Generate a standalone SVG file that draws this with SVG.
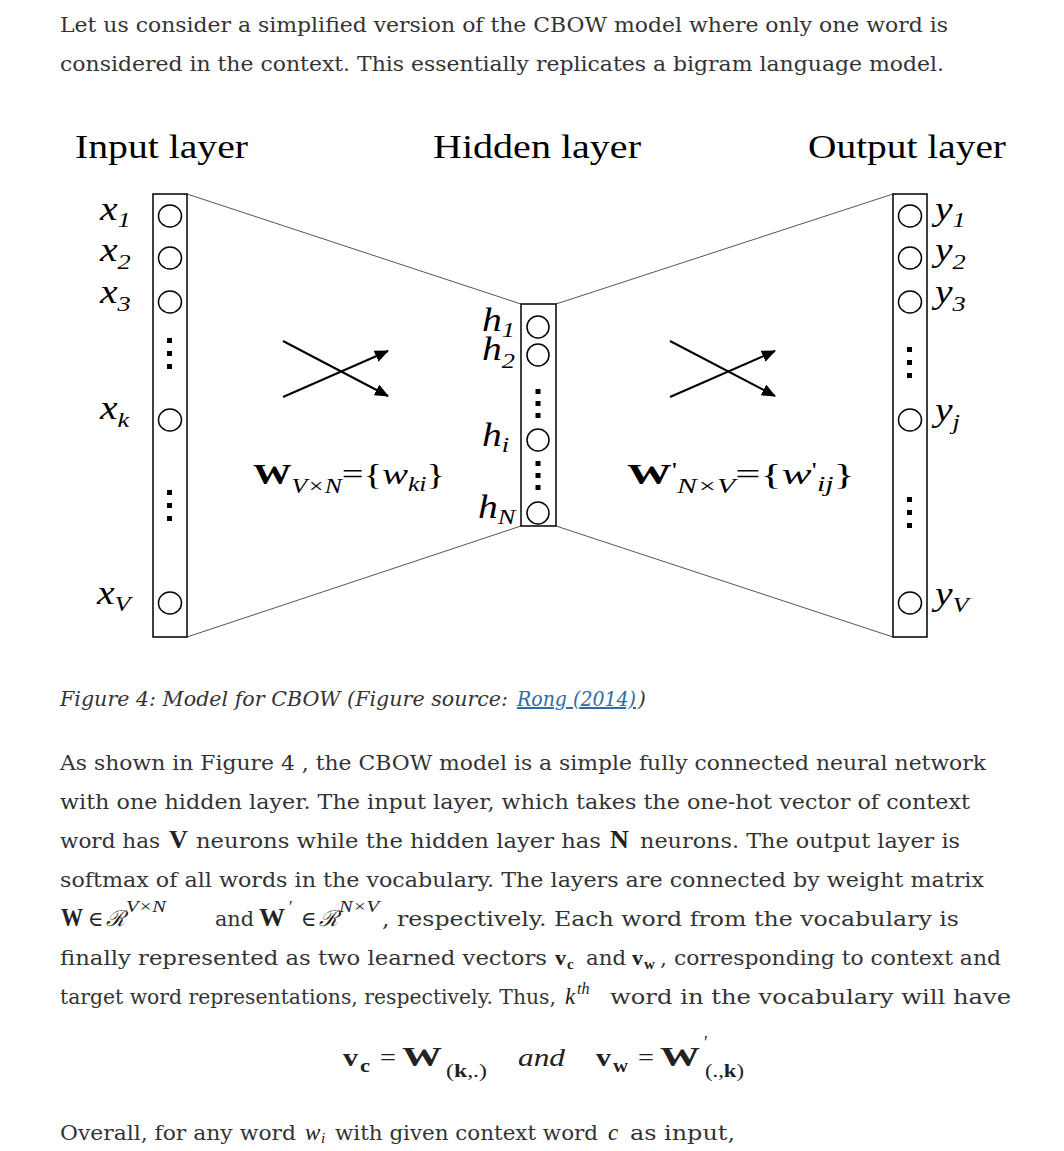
<svg xmlns="http://www.w3.org/2000/svg" width="1064" height="1151" viewBox="0 0 1064 1151">
<style>
.body{font-family:"DejaVu Serif","Liberation Serif",serif;font-size:20px;fill:#333}
.cap{font-family:"DejaVu Serif","Liberation Serif",serif;font-size:20px;font-style:italic;fill:#333}
.link{fill:#2f6aa3;text-decoration:underline}
.m{font-family:"Liberation Serif","DejaVu Serif",serif;fill:#222}
.mb{font-family:"Liberation Serif","DejaVu Serif",serif;font-weight:bold;fill:#222}
.mi{font-family:"Liberation Serif","DejaVu Serif",serif;font-style:italic;fill:#222}
.title{font-family:"Liberation Serif",serif;font-size:34px;fill:#000}
.lab{font-family:"Liberation Serif",serif;font-style:italic;font-size:33px;fill:#000}
.sub{font-size:22px}
.wl{font-family:"Liberation Serif",serif;font-size:30px;fill:#000}
.box{fill:#fff;stroke:#000;stroke-width:1.5}
.nd{fill:#fff;stroke:#000;stroke-width:1.5}
.dot{fill:#000}
.edge{stroke:#555;stroke-width:1;fill:none}
.arr{stroke:#000;stroke-width:2;fill:none;marker-end:url(#ah)}
</style>
<defs>
<marker id="ah" markerUnits="userSpaceOnUse" markerWidth="14" markerHeight="12" refX="13" refY="6" orient="auto">
<path d="M0,0 L14,6 L0,12 Z" fill="#000"/>
</marker>
</defs>
<rect width="1064" height="1151" fill="#fff"/>

<!-- intro text -->
<text class="body" x="60" y="32" textLength="888" lengthAdjust="spacingAndGlyphs">Let us consider a simplified version of the CBOW model where only one word is</text>
<text class="body" x="60" y="71" textLength="884" lengthAdjust="spacingAndGlyphs">considered in the context. This essentially replicates a bigram language model.</text>

<!-- titles -->
<text class="title" x="75" y="158" textLength="173" lengthAdjust="spacingAndGlyphs">Input layer</text>
<text class="title" x="433" y="158" textLength="208" lengthAdjust="spacingAndGlyphs">Hidden layer</text>
<text class="title" x="808" y="158" textLength="198" lengthAdjust="spacingAndGlyphs">Output layer</text>

<!-- connectors -->
<g id="connectors">
<line class="edge" x1="187" y1="194" x2="521" y2="304"/>
<line class="edge" x1="187" y1="637" x2="521" y2="526"/>
<line class="edge" x1="556" y1="304" x2="893" y2="194"/>
<line class="edge" x1="556" y1="526" x2="893" y2="637"/>
<line class="arr" x1="283" y1="341" x2="388" y2="396"/>
<line class="arr" x1="283" y1="397" x2="388" y2="351"/>
<line class="arr" x1="670" y1="341" x2="775" y2="396"/>
<line class="arr" x1="670" y1="397" x2="775" y2="351"/>
</g>

<!-- input layer -->
<g id="input-layer">
<rect class="box" x="153" y="194" width="34" height="443"/>
<ellipse class="nd" cx="170" cy="216" rx="11.5" ry="11"/>
<ellipse class="nd" cx="170" cy="258" rx="11.5" ry="11"/>
<ellipse class="nd" cx="170" cy="302" rx="11.5" ry="11"/>
<rect class="dot" x="167" y="338" width="5" height="5"/>
<rect class="dot" x="167" y="351" width="5" height="5"/>
<rect class="dot" x="167" y="364" width="5" height="5"/>
<ellipse class="nd" cx="170" cy="420" rx="11.5" ry="11"/>
<rect class="dot" x="167" y="490" width="5" height="5"/>
<rect class="dot" x="167" y="503" width="5" height="5"/>
<rect class="dot" x="167" y="516" width="5" height="5"/>
<ellipse class="nd" cx="170" cy="603" rx="11.5" ry="11"/>
<text class="lab" transform="translate(100,220) scale(1.2,1)">x<tspan class="sub" dy="7">1</tspan></text>
<text class="lab" transform="translate(100,261) scale(1.2,1)">x<tspan class="sub" dy="8">2</tspan></text>
<text class="lab" transform="translate(100,303) scale(1.2,1)">x<tspan class="sub" dy="8">3</tspan></text>
<text class="lab" transform="translate(100,419) scale(1.2,1)">x<tspan class="sub" dy="8">k</tspan></text>
<text class="lab" transform="translate(97,604) scale(1.2,1)">x<tspan class="sub" dy="7">V</tspan></text>
</g>

<!-- hidden layer -->
<g id="hidden-layer">
<rect class="box" x="521" y="304" width="35" height="222"/>
<ellipse class="nd" cx="538" cy="327" rx="11" ry="11"/>
<ellipse class="nd" cx="538" cy="355" rx="11" ry="11"/>
<rect class="dot" x="535.5" y="389" width="5" height="5"/>
<rect class="dot" x="535.5" y="401" width="5" height="5"/>
<rect class="dot" x="535.5" y="413" width="5" height="5"/>
<ellipse class="nd" cx="538" cy="440" rx="11" ry="11"/>
<rect class="dot" x="535.5" y="461" width="5" height="5"/>
<rect class="dot" x="535.5" y="473" width="5" height="5"/>
<rect class="dot" x="535.5" y="485" width="5" height="5"/>
<ellipse class="nd" cx="538" cy="513" rx="11" ry="11"/>
<text class="lab" transform="translate(482,331) scale(1.2,1)">h<tspan class="sub" dy="6">1</tspan></text>
<text class="lab" transform="translate(482,360) scale(1.2,1)">h<tspan class="sub" dy="8">2</tspan></text>
<text class="lab" transform="translate(482,446) scale(1.2,1)">h<tspan class="sub" dy="6">i</tspan></text>
<text class="lab" transform="translate(478,518) scale(1.2,1)">h<tspan class="sub" dy="6">N</tspan></text>
</g>

<!-- output layer -->
<g id="output-layer">
<rect class="box" x="893" y="194" width="34" height="443"/>
<ellipse class="nd" cx="910" cy="216" rx="11.5" ry="11"/>
<ellipse class="nd" cx="910" cy="258" rx="11.5" ry="11"/>
<ellipse class="nd" cx="910" cy="302" rx="11.5" ry="11"/>
<rect class="dot" x="907" y="347" width="5" height="5"/>
<rect class="dot" x="907" y="360" width="5" height="5"/>
<rect class="dot" x="907" y="373" width="5" height="5"/>
<ellipse class="nd" cx="910" cy="420" rx="11.5" ry="11"/>
<rect class="dot" x="907" y="497" width="5" height="5"/>
<rect class="dot" x="907" y="510" width="5" height="5"/>
<rect class="dot" x="907" y="523" width="5" height="5"/>
<ellipse class="nd" cx="910" cy="603" rx="11.5" ry="11"/>
<text class="lab" transform="translate(935,220) scale(1.2,1)">y<tspan class="sub" dy="7">1</tspan></text>
<text class="lab" transform="translate(935,261) scale(1.2,1)">y<tspan class="sub" dy="8">2</tspan></text>
<text class="lab" transform="translate(935,303) scale(1.2,1)">y<tspan class="sub" dy="8">3</tspan></text>
<text class="lab" transform="translate(935,421) scale(1.2,1)">y<tspan class="sub" dy="8">j</tspan></text>
<text class="lab" transform="translate(935,605) scale(1.2,1)">y<tspan class="sub" dy="7">V</tspan></text>
</g>

<!-- weight labels -->
<g id="w-label">
<text class="wl" x="253" y="484" textLength="192" lengthAdjust="spacingAndGlyphs"><tspan font-weight="bold">W</tspan><tspan font-style="italic" font-size="20" dy="9">V×N</tspan><tspan dy="-9">={</tspan><tspan font-style="italic">w</tspan><tspan font-style="italic" font-size="20" dy="7">ki</tspan><tspan dy="-7">}</tspan></text>
</g>
<g id="wp-label">
<text class="wl" x="627" y="484" textLength="228" lengthAdjust="spacingAndGlyphs"><tspan font-weight="bold">W</tspan><tspan font-size="20" dy="-7">'</tspan><tspan font-style="italic" font-size="20" dy="16">N×V</tspan><tspan dy="-9">={</tspan><tspan font-style="italic">w</tspan><tspan font-size="20" dy="-7">'</tspan><tspan font-style="italic" font-size="20" dy="14">ij</tspan><tspan dy="-7">}</tspan></text>
</g>

<!-- caption -->
<text class="cap" x="60" y="706" textLength="448" lengthAdjust="spacingAndGlyphs">Figure 4: Model for CBOW (Figure source:</text>
<text class="cap link" x="517" y="706" textLength="119" lengthAdjust="spacingAndGlyphs">Rong (2014)</text>
<text class="cap" x="638" y="706">)</text>

<!-- paragraph -->
<text class="body" x="60" y="770" textLength="926" lengthAdjust="spacingAndGlyphs">As shown in Figure 4 , the CBOW model is a simple fully connected neural network</text>
<text class="body" x="60" y="809" textLength="910" lengthAdjust="spacingAndGlyphs">with one hidden layer. The input layer, which takes the one-hot vector of context</text>
<text class="body" x="60" y="848" textLength="100" lengthAdjust="spacingAndGlyphs">word has</text>
<text class="mb" x="169" y="848" font-size="26">V</text>
<text class="body" x="196" y="848" textLength="405" lengthAdjust="spacingAndGlyphs">neurons while the hidden layer has</text>
<text class="mb" x="610" y="848" font-size="26">N</text>
<text class="body" x="640" y="848" textLength="320" lengthAdjust="spacingAndGlyphs">neurons. The output layer is</text>
<text class="body" x="60" y="887" textLength="924" lengthAdjust="spacingAndGlyphs">softmax of all words in the vocabulary. The layers are connected by weight matrix</text>

<g id="line5">
<text class="mb" x="61" y="926" font-size="25" textLength="22" lengthAdjust="spacingAndGlyphs">W</text>
<text class="m" x="88" y="926" font-size="21">∈</text>
<text class="mi" x="106" y="926" font-size="22">ℛ</text>
<text class="mi" x="126" y="912" font-size="16" textLength="40" lengthAdjust="spacingAndGlyphs">V×N</text>
<text class="body" x="215" y="926" textLength="39" lengthAdjust="spacingAndGlyphs">and</text>
<text class="mb" x="259" y="926" font-size="25" textLength="26" lengthAdjust="spacingAndGlyphs">W</text>
<text class="m" x="289" y="912" font-size="16">′</text>
<text class="m" x="301" y="926" font-size="21">∈</text>
<text class="mi" x="319" y="926" font-size="22">ℛ</text>
<text class="mi" x="339" y="912" font-size="16" textLength="40" lengthAdjust="spacingAndGlyphs">N×V</text>
<text class="body" x="382" y="926" textLength="577" lengthAdjust="spacingAndGlyphs">, respectively. Each word from the vocabulary is</text>
</g>

<g id="line6">
<text class="body" x="60" y="965" textLength="487" lengthAdjust="spacingAndGlyphs">finally represented as two learned vectors</text>
<text class="mb" x="555" y="965" font-size="22">v</text><text class="mb" x="567" y="969" font-size="15">c</text>
<text class="body" x="586" y="965" textLength="40" lengthAdjust="spacingAndGlyphs">and</text>
<text class="mb" x="632" y="965" font-size="22">v</text><text class="mb" x="644" y="969" font-size="15">w</text>
<text class="body" x="660" y="965" textLength="341" lengthAdjust="spacingAndGlyphs">, corresponding to context and</text>
</g>

<g id="line7">
<text class="body" x="60" y="1004" textLength="496" lengthAdjust="spacingAndGlyphs">target word representations, respectively. Thus,</text>
<text class="mi" x="565" y="1004" font-size="23">k</text><text class="mi" x="577" y="994" font-size="16">th</text>
<text class="body" x="610" y="1004" textLength="401" lengthAdjust="spacingAndGlyphs">word in the vocabulary will have</text>
</g>

<g id="equation">
<text class="mb" x="343" y="1066" font-size="26" textLength="15" lengthAdjust="spacingAndGlyphs">v</text>
<text class="mb" x="360" y="1072" font-size="18" textLength="10" lengthAdjust="spacingAndGlyphs">c</text>
<text class="m" x="380" y="1066" font-size="26" textLength="16" lengthAdjust="spacingAndGlyphs">=</text>
<text class="mb" x="402" y="1066" font-size="27" textLength="40" lengthAdjust="spacingAndGlyphs">W</text>
<text class="m" x="446" y="1077" font-size="18" textLength="41" lengthAdjust="spacingAndGlyphs">(<tspan font-weight="bold">k</tspan>,.)</text>
<text class="mi" x="518" y="1066" font-size="26" textLength="47" lengthAdjust="spacingAndGlyphs">and</text>
<text class="mb" x="596" y="1066" font-size="26" textLength="15" lengthAdjust="spacingAndGlyphs">v</text>
<text class="mb" x="613" y="1072" font-size="18" textLength="15" lengthAdjust="spacingAndGlyphs">w</text>
<text class="m" x="638" y="1066" font-size="26" textLength="16" lengthAdjust="spacingAndGlyphs">=</text>
<text class="mb" x="660" y="1066" font-size="27" textLength="40" lengthAdjust="spacingAndGlyphs">W</text>
<text class="m" x="704" y="1049" font-size="18">′</text>
<text class="m" x="705" y="1077" font-size="18" textLength="39" lengthAdjust="spacingAndGlyphs">(.,<tspan font-weight="bold">k</tspan>)</text>
</g>

<g id="lastline">
<text class="body" x="60" y="1140" textLength="236" lengthAdjust="spacingAndGlyphs">Overall, for any word</text>
<text class="mi" x="305" y="1140" font-size="23">w</text><text class="mi" x="321" y="1143" font-size="15">i</text>
<text class="body" x="335" y="1140" textLength="263" lengthAdjust="spacingAndGlyphs">with given context word</text>
<text class="mi" x="608" y="1140" font-size="23">c</text>
<text class="body" x="630" y="1140" textLength="105" lengthAdjust="spacingAndGlyphs">as input,</text>
</g>
</svg>
